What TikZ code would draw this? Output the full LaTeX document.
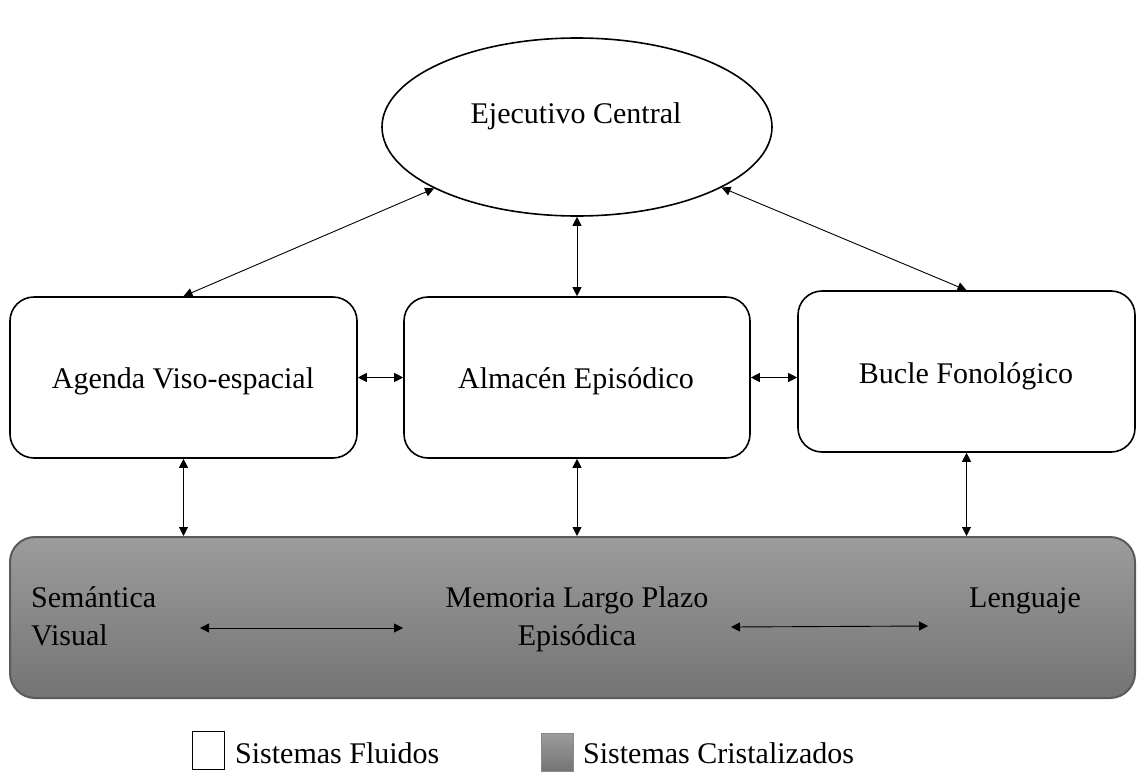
\documentclass[tikz,border=0pt]{standalone}
\usepackage{fontspec}
\setmainfont{Liberation Serif}
\usetikzlibrary{shapes.geometric,arrows.meta}
\definecolor{crystop}{HTML}{9C9C9C}
\definecolor{crysbot}{HTML}{747474}
\definecolor{crysline}{HTML}{5A5A5A}
\begin{document}
\begin{tikzpicture}[x=1pt,y=-1pt,
  lbl/.style={inner sep=0pt,anchor=base,font=\fontsize{30}{38}\selectfont},
  fluid/.style={draw=black,line width=1.6pt,rounded corners=24pt,fill=white,inner sep=0pt},
  crystal/.style={draw=crysline,line width=2pt,rounded corners=25pt,top color=crystop,bottom color=crysbot,inner sep=0pt},
  arr/.style={{Triangle[length=9pt,width=9pt]}-{Triangle[length=9pt,width=9pt]},line width=0.9pt}]
\useasboundingbox (0,0) rectangle (1137,771);

% central executive
\node[draw,line width=1.6pt,ellipse,minimum width=390pt,minimum height=178pt,inner sep=0pt] (ejec) at (577,127) {};
\node[lbl] (ejectxt) at (576,123) {Ejecutivo Central};

% fluid systems
\node[fluid,minimum width=347pt,minimum height=161pt] (agenda) at (183.5,377.5) {};
\node[fluid,minimum width=346pt,minimum height=161pt] (almacen) at (577,377.5) {};
\node[fluid,minimum width=337pt,minimum height=161pt] (bucle) at (966.5,371.5) {};
\node[lbl] (agendatxt) at (183,388) {Agenda Viso-espacial};
\node[lbl] (almacentxt) at (576,388) {Almacén Episódico};
\node[lbl] (bucletxt) at (966,383) {Bucle Fonológico};

% crystallized systems
\node[crystal,minimum width=1125pt,minimum height=161pt] (mem) at (572.5,617.5) {};
\node[lbl,anchor=base west] (sem1) at (31,607) {Semántica};
\node[lbl,anchor=base west] (sem2) at (31,645) {Visual};
\node[lbl] (memtxt1) at (577,607) {Memoria Largo Plazo};
\node[lbl] (memtxt2) at (577,645) {Episódica};
\node[lbl,anchor=base east] (lengtxt) at (1081,607) {Lenguaje};

% connectors
\draw[arr] (ejec) -- (agenda.north);
\draw[arr] (ejec) -- (almacen.north);
\draw[arr] (ejec) -- (bucle.north);
\draw[arr] (agenda.east) -- (almacen.west);
\draw[arr] (almacen.east) -- (almacen.east -| bucle.west);
\draw[arr] (agenda.south) -- (agenda.south |- mem.north);
\draw[arr] (almacen.south) -- (almacen.south |- mem.north);
\draw[arr] (bucle.south) -- (bucle.south |- mem.north);

\coordinate (l1) at (200,628);
\coordinate (l2) at (403,628);
\coordinate (r1) at (731,627);
\coordinate (r2) at (928,626);
\draw[arr] (l1) -- (l2);
\draw[arr] (r1) -- (r2);

% legend
\node[draw=black,line width=1.4pt,fill=white,minimum width=32pt,minimum height=38pt,inner sep=0pt] (keyfluid) at (208.5,750.5) {};
\node[lbl,anchor=base west] (keyfluidtxt) at (235,763) {Sistemas Fluidos};
\node[draw=crysline!70,line width=0.8pt,top color=crystop,bottom color=crysbot,minimum width=32pt,minimum height=38pt,inner sep=0pt] (keycrys) at (557,752) {};
\node[lbl,anchor=base west] (keycrystxt) at (583,763) {Sistemas Cristalizados};
\end{tikzpicture}
\end{document}
